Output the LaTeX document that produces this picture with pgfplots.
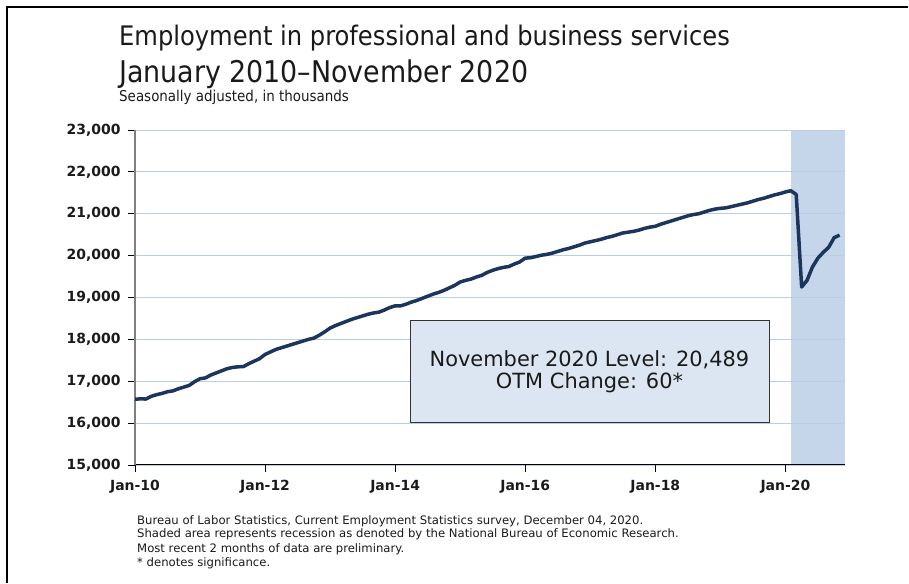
\documentclass[border=0pt]{standalone}
\usepackage{pgfplots}
\pgfplotsset{compat=1.18}
\usepackage{pgfplotstable}
\usepackage{fontspec}
\setmainfont{DejaVu Sans}
\newfontfamily\condfont{DejaVu Sans Condensed}
\definecolor{navy}{HTML}{1B355C}
\definecolor{gridc}{HTML}{B9CDE5}
\definecolor{recess}{HTML}{C6D6EA}
\definecolor{boxfill}{HTML}{DCE6F2}
\definecolor{txt}{HTML}{1A1A1A}

\pgfplotstableread{
v
16570
16580
16575
16640
16680
16710
16750
16770
16820
16860
16900
16990
17060
17080
17150
17200
17250
17300
17330
17345
17350
17420
17480
17540
17640
17700
17760
17800
17840
17880
17920
17960
18000
18030
18100
18180
18270
18330
18380
18430
18480
18520
18560
18600
18630
18650
18700
18760
18800
18800
18840
18890
18930
18980
19030
19080
19120
19170
19230
19290
19370
19410
19440
19490
19530
19600
19650
19690
19720
19740
19800
19850
19940
19950
19980
20010
20030
20060
20100
20140
20170
20210
20250
20300
20330
20360
20390
20430
20460
20500
20540
20560
20580
20610
20650
20680
20700
20750
20790
20830
20870
20910
20950
20980
21000
21040
21080
21110
21130
21140
21170
21200
21230
21260
21300
21340
21370
21410
21450
21480
21520
21550
21460
19250
19410
19730
19940
20080
20200
20429
20489
}\pbs

\pgfplotstableread{
x y
121 23000
131 23000
}\recession

\begin{document}
\begin{tikzpicture}
\path (0,0) rectangle (909bp,584bp);
\draw[black, line width=2bp] (7bp,1bp) -- (7bp,577bp) -- (908bp,577bp);
\node[anchor=base west, inner sep=0pt, text=txt, font=\condfont\fontsize{27}{31}\selectfont] at (119bp,538bp) {Employment in professional and business services};
\node[anchor=base west, inner sep=0pt, text=txt, font=\condfont\fontsize{30}{34}\selectfont] at (119bp,501bp) {January 2010–November 2020};
\node[anchor=base west, inner sep=0pt, text=txt, font=\condfont\fontsize{15}{17}\selectfont] at (119bp,482bp) {Seasonally adjusted, in thousands};
\begin{axis}[
  set layers,
  at={(135bp,119bp)}, anchor=south west, scale only axis,
  width=710bp, height=335bp,
  xmin=0, xmax=131, ymin=15000, ymax=23000,
  axis x line*=bottom, axis y line*=left,
  x axis line style={black, line width=1bp},
  y axis line style={black!50, line width=1.2bp},
  ymajorgrids, grid style={gridc, line width=0.8bp},
  xtick={0,24,48,72,96,120},
  xticklabels={Jan-10,Jan-12,Jan-14,Jan-16,Jan-18,Jan-20},
  ytick={15000,16000,...,23000},
  scaled y ticks=false,
  tick align=outside, major tick length=7bp,
  tick style={black, line width=0.8bp},
  ticklabel style={font=\fontsize{14}{16}\selectfont\bfseries, text=txt},
  xticklabel style={yshift=-5bp},
  yticklabel style={xshift=-4bp, /pgf/number format/1000 sep={,}, /pgf/number format/assume math mode=true},
]
\addplot[fill=recess, draw=none, mark=none, on layer=axis background] table[x=x, y=y] {\recession} \closedcycle;
\addplot[navy, line width=3.5bp, line join=round, mark=none] table[x expr=\coordindex, y=v] {\pbs};
\end{axis}
\draw[fill=boxfill, draw=black!80, line width=0.8bp] (410bp,162bp) rectangle (769bp,264bp);
\node[anchor=base, inner sep=0pt, text=txt, font=\fontsize{21}{24}\selectfont] at (589.5bp,217bp) {November 2020 Level: 20,489};
\node[anchor=base, inner sep=0pt, text=txt, font=\fontsize{21}{24}\selectfont] at (589.5bp,195bp) {OTM Change: 60*};
\node[anchor=base west, inner sep=0pt, text=txt, font=\fontsize{11.7}{13}\selectfont] at (137bp,59bp) {Bureau of Labor Statistics, Current Employment Statistics survey, December 04, 2020.};
\node[anchor=base west, inner sep=0pt, text=txt, font=\fontsize{11.7}{13}\selectfont] at (137bp,46bp) {Shaded area represents recession as denoted by the National Bureau of Economic Research.};
\node[anchor=base west, inner sep=0pt, text=txt, font=\fontsize{11.7}{13}\selectfont] at (137bp,32bp) {Most recent 2 months of data are preliminary.};
\node[anchor=base west, inner sep=0pt, text=txt, font=\fontsize{11.7}{13}\selectfont] at (137bp,18bp) {* denotes significance.};
\end{tikzpicture}
\end{document}
